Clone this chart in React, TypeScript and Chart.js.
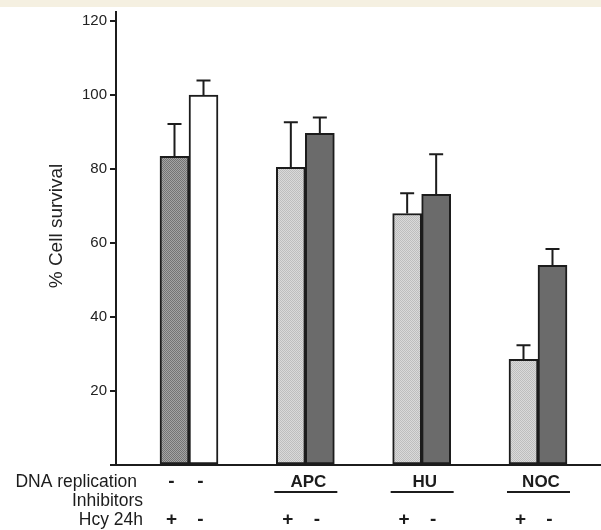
import React, { useEffect, useRef } from "react";
import Chart from "chart.js/auto";

// ---- data ----
const groups = ["", "APC", "HU", "NOC"];
const groupPositions = [0, 1, 2, 3];
const hcyPlusValues = [83.5, 80.5, 68, 28.6];
const hcyPlusErrors = [8.7, 12.2, 5.5, 3.8];
const hcyMinusValues = [100, 89.7, 73.2, 54];
const hcyMinusErrors = [4, 4.3, 10.8, 4.4];
const yTicks = [0, 20, 40, 60, 80, 100, 120];
const hcySigns = ["+", "-"];
const controlSigns = ["-", "-"];
const yTitle = "% Cell survival";
const rowLabels = ["DNA replication", "Inhibitors", "Hcy 24h"];

const INK = "#1c1c1c";

function makePattern(a: string, b: string): CanvasPattern | string {
  const c = document.createElement("canvas");
  c.width = 2;
  c.height = 2;
  const g = c.getContext("2d");
  if (!g) return a;
  g.fillStyle = a;
  g.fillRect(0, 0, 2, 2);
  g.fillStyle = b;
  g.fillRect(0, 0, 1, 1);
  g.fillRect(1, 1, 1, 1);
  const p = g.createPattern(c, "repeat");
  return p || a;
}

export default function App() {
  const ref = useRef<HTMLCanvasElement | null>(null);

  useEffect(() => {
    if (!ref.current) return;
    const darkDots = makePattern("#a4a4a4", "#747474");
    const lightDots = makePattern("#dadada", "#bebebe");
    const darkSolid = "#6b6b6b";

    const errorBars = {
      id: "errorBars",
      afterDatasetsDraw(chart: any) {
        const ctx = chart.ctx;
        const ys = chart.scales.y;
        const sets = [
          { v: hcyPlusValues, e: hcyPlusErrors },
          { v: hcyMinusValues, e: hcyMinusErrors },
        ];
        ctx.save();
        ctx.strokeStyle = INK;
        ctx.lineWidth = 2;
        sets.forEach((s, d) => {
          const meta = chart.getDatasetMeta(d);
          meta.data.forEach((el: any, j: number) => {
            const x = el.x;
            const top = ys.getPixelForValue(s.v[j] + s.e[j]);
            ctx.beginPath();
            ctx.moveTo(x, el.y);
            ctx.lineTo(x, top);
            ctx.moveTo(x - 7, top);
            ctx.lineTo(x + 7, top);
            ctx.stroke();
          });
        });
        ctx.restore();
      },
    };

    const labelsPlugin = {
      id: "bottomLabels",
      afterDraw(chart: any) {
        const ctx = chart.ctx;
        const xs = chart.scales.x;
        const m0 = chart.getDatasetMeta(0);
        const m1 = chart.getDatasetMeta(1);
        const area = chart.chartArea;
        const row1 = area.bottom + 17;
        const row2 = area.bottom + 36;
        const row3 = area.bottom + 55;
        const signFont = "bold 19px 'Liberation Sans', Arial, sans-serif";
        ctx.save();
        ctx.fillStyle = INK;
        ctx.textBaseline = "middle";
        ctx.font = "17.5px 'Liberation Sans', Arial, sans-serif";
        ctx.textAlign = "right";
        ctx.fillText(rowLabels[0], 137, row1);
        ctx.fillText(rowLabels[1], 143, row2);
        ctx.fillText(rowLabels[2], 143, row3);

        ctx.textAlign = "center";
        ctx.font = signFont;
        groupPositions.forEach((g, i) => {
          const b0 = m0.data[i].x;
          const b1 = m1.data[i].x;
          ctx.fillText(hcySigns[0], b0 - 3, row3);
          ctx.fillText(hcySigns[1], b1 - 3, row3);
          if (i === 0) {
            ctx.fillText(controlSigns[0], b0 - 3, row1);
            ctx.fillText(controlSigns[1], b1 - 3, row1);
          } else {
            const cx = xs.getPixelForValue(g);
            ctx.font = "bold 17px 'Liberation Sans', Arial, sans-serif";
            ctx.fillText(groups[i], cx + 3, row1);
            ctx.font = signFont;
            ctx.strokeStyle = INK;
            ctx.lineWidth = 2;
            ctx.beginPath();
            ctx.moveTo(cx - 31, area.bottom + 27);
            ctx.lineTo(cx + 32, area.bottom + 27);
            ctx.stroke();
          }
        });

        // y axis title
        ctx.font = "19px 'Liberation Sans', Arial, sans-serif";
        ctx.fillStyle = "#222";
        ctx.translate(57, 226);
        ctx.rotate(-Math.PI / 2);
        ctx.textAlign = "center";
        ctx.fillText(yTitle, 0, 0);
        ctx.restore();
      },
    };

    const chart = new Chart(ref.current, {
      type: "bar",
      data: {
        datasets: [
          {
            label: "Hcy +",
            data: groupPositions.map((g, i) => ({ x: g, y: hcyPlusValues[i] })),
            backgroundColor: groupPositions.map((g) => (g === 0 ? darkDots : lightDots)) as any,
            borderColor: INK,
            borderWidth: 2,
            borderSkipped: false,
          },
          {
            label: "Hcy -",
            data: groupPositions.map((g, i) => ({ x: g, y: hcyMinusValues[i] })),
            backgroundColor: groupPositions.map((g) => (g === 0 ? "#ffffff" : darkSolid)) as any,
            borderColor: INK,
            borderWidth: 2,
            borderSkipped: false,
          },
        ],
      },
      options: {
        responsive: false,
        animation: false,
        devicePixelRatio: 1,
        barThickness: 29,
        layout: { padding: { left: 42, top: 12, right: 0, bottom: 65 } },
        plugins: {
          legend: { display: false },
          tooltip: { enabled: false },
          title: { display: false },
        },
        scales: {
          x: {
            type: "linear",
            offset: false,
            min: -0.6275,
            max: 3.5416,
            grid: { display: false, drawTicks: false },
            border: { display: true, color: INK, width: 2 },
            ticks: { display: false },
            afterFit: (s: any) => {
              s.height = 0;
            },
          },
          y: {
            min: 0,
            max: 122.5,
            afterFit: (s: any) => {
              s.width = 74;
            },
            afterBuildTicks: (s: any) => {
              s.ticks = yTicks.map((v) => ({ value: v }));
            },
            grid: {
              display: true,
              drawOnChartArea: false,
              drawTicks: true,
              tickLength: 6,
              tickColor: INK,
              lineWidth: 2,
            },
            border: { display: true, color: INK, width: 2 },
            ticks: {
              padding: 3,
              color: "#222",
              font: { family: "'Liberation Sans', Arial, sans-serif", size: 15 },
              callback: (v: any) => (Number(v) === 0 ? "" : String(v)),
            },
          },
        },
      },
      plugins: [errorBars, labelsPlugin],
    } as any);

    return () => chart.destroy();
  }, []);

  return (
    <div
      style={{
        position: "fixed",
        left: 0,
        top: 0,
        width: 601,
        height: 530,
        background: "#ffffff",
        overflow: "hidden",
      }}
    >
      <div
        style={{
          position: "absolute",
          left: 0,
          top: 0,
          width: 601,
          height: 7,
          background: "#f5f0e1",
        }}
      />
      <canvas
        ref={ref}
        width={601}
        height={530}
        style={{ position: "absolute", left: 0, top: 0, display: "block" }}
      />
    </div>
  );
}
